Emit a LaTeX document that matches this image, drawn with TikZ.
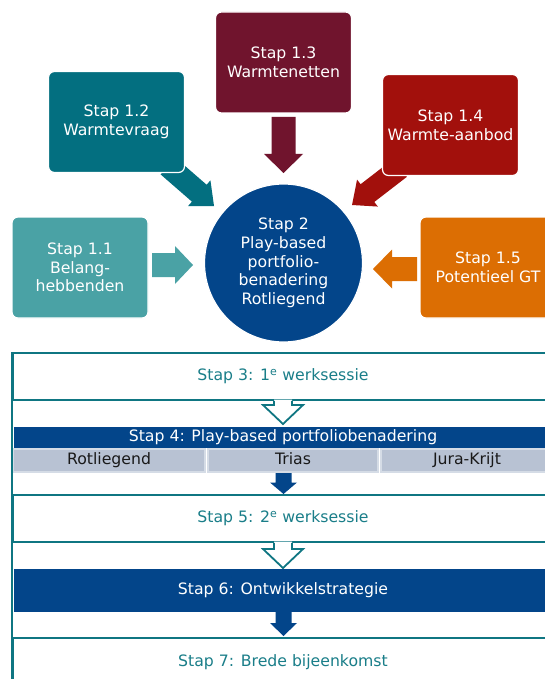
\documentclass[tikz,border=0pt]{standalone}
\usepackage{fontspec}
\setmainfont{DejaVu Sans}
\usetikzlibrary{calc}
\definecolor{cA}{HTML}{4AA2A5}
\definecolor{cB}{HTML}{036F80}
\definecolor{cC}{HTML}{70142D}
\definecolor{cD}{HTML}{A2100C}
\definecolor{cE}{HTML}{DC6E03}
\definecolor{cblue}{HTML}{03458A}
\definecolor{tealc}{HTML}{0F7682}
\definecolor{tealtext}{HTML}{1A7E89}
\definecolor{cellc}{HTML}{B8C2D3}
\definecolor{cellb}{HTML}{D5DCE6}
\newcommand\dfont{\fontsize{15.7}{18.6}\selectfont}
% block arrow: start, tip, shaft half width, head half width, head length, colour
\newcommand\blockarrow[6]{%
  \coordinate (ba-h) at ($(#2)!#5!(#1)$);
  \fill[#6] ($(#1)!#3!90:(#2)$) -- ($(ba-h)!#3!90:(#2)$) -- ($(ba-h)!#4!90:(#2)$) -- (#2)
    -- ($(ba-h)!#4!-90:(#2)$) -- ($(ba-h)!#3!-90:(#2)$) -- ($(#1)!#3!-90:(#2)$) -- cycle;}
% hollow arrow: top (on box border), tip
\newcommand\hollowarrow[2]{%
  \fill[white] ($(#1)+(-9,-1.3)$) -- ($(#2)+(-9,-19)$) -- ($(#2)+(-20,-19)$) -- (#2)
    -- ($(#2)+(20,-19)$) -- ($(#2)+(9,-19)$) -- ($(#1)+(9,-1.3)$) -- cycle;
  \draw[tealline] ($(#1)+(-9,0)$) -- ($(#2)+(-9,-19)$) -- ($(#2)+(-20,-19)$) -- (#2)
    -- ($(#2)+(20,-19)$) -- ($(#2)+(9,-19)$) -- ($(#1)+(9,0)$);}
\begin{document}
\begin{tikzpicture}[x=1pt,y=-1pt,
  topbox/.style={rounded corners=6pt, draw=white, line width=1.2pt, minimum width=136pt,
    minimum height=101pt, text=white, align=center, font=\dfont, inner sep=0pt},
  hub/.style={circle, fill=cblue, draw=white, line width=1.2pt, minimum size=158pt,
    text=white, align=center, font=\dfont, inner sep=0pt},
  tealline/.style={draw=tealc, line width=1.8pt, line join=miter},
  wbox/.style={draw=tealc, line width=1.8pt, fill=white, minimum width=540pt,
    inner sep=0pt, text=tealtext, font=\dfont, text height=11.5pt, text depth=3.5pt},
  bbar/.style={fill=cblue, minimum width=538pt, inner sep=0pt, text=white, font=\dfont,
    text height=11.5pt, text depth=3.5pt},
  cell/.style={fill=cellc, draw=cellb, line width=1.5pt, minimum height=23pt,
    inner sep=0pt, text=black!90, font=\dfont, text height=11.5pt, text depth=3.5pt},
  lbl/.style={inner sep=0pt, font=\dfont, text height=11.5pt, text depth=3.5pt}]
\useasboundingbox (0,0) rectangle (545,679);
\clip (0,0) rectangle (545,679);
\fill[white] (0,0) rectangle (545,679);

% arrow end points
\coordinate (a13s) at (283.5,117); \coordinate (a13t) at (283.5,173);
\coordinate (a11s) at (152,265);   \coordinate (a11t) at (193,265);
\coordinate (a15s) at (417,269);   \coordinate (a15t) at (373,269);
\coordinate (a12s) at (168,166);   \coordinate (a12t) at (214,206);
\coordinate (a14s) at (400,168);   \coordinate (a14t) at (352,205);

\blockarrow{a13s}{a13t}{12pt}{19.5pt}{19pt}{cC}
\blockarrow{a11s}{a11t}{12pt}{19pt}{18pt}{cA}
\blockarrow{a15s}{a15t}{12pt}{19.5pt}{19pt}{cE}
\blockarrow{a12s}{a12t}{11.2pt}{17pt}{19.5pt}{cB}
\blockarrow{a14s}{a14t}{11.2pt}{17pt}{19.5pt}{cD}

\node[topbox, fill=cA] (b11) at (80,267.5)  {Stap 1.1\\Belang-\\hebbenden};
\node[topbox, fill=cB] (b12) at (116.5,122) {Stap 1.2\\Warmtevraag};
\node[topbox, fill=cC] (b13) at (283.5,62.5) {Stap 1.3\\Warmtenetten};
\node[topbox, fill=cD] (b14) at (450.5,125) {Stap 1.4\\Warmte-aanbod};
\node[topbox, fill=cE] (b15) at (488,267.5) {Stap 1.5\\Potentieel GT};
\node[hub] (c2) at (283.5,263) {Stap 2\\Play-based\\portfolio-\\benadering\\Rotliegend};

% lower part
\node[wbox, minimum height=47pt] (s3) at (283,376.5) {Stap 3: 1\textsuperscript{e} werksessie};
\node[bbar, minimum height=21pt] (s4) at (283,437.5) {Stap 4: Play-based portfoliobenadering};
\node[cell, minimum width=192pt] (r1) at (109,460.5) {Rotliegend};
\node[cell, minimum width=170pt] (r2) at (293,460.5) {Trias};
\node[cell, minimum width=172pt] (r3) at (467,460.5) {Jura-Krijt};
\node[wbox, minimum height=47pt] (s5) at (283,518.5) {Stap 5: 2\textsuperscript{e} werksessie};
\node[bbar, minimum height=43pt] (s6) at (283,590.5) {Stap 6: Ontwikkelstrategie};
\node[wbox, minimum height=48pt] (s7) at (283,662) {};
\node[lbl, text=tealtext] (t7) at (283,662) {Stap 7: Brede bijeenkomst};
\draw[tealline] (s3.north west) -- (s3.north west |- 0,700);

\coordinate (h1t) at (283,424);
\coordinate (h2t) at (283,568);
\hollowarrow{s3.south}{h1t}
\hollowarrow{s5.south}{h2t}

\coordinate (f1s) at (283.5,473); \coordinate (f1t) at (283.5,494);
\coordinate (f2s) at (283.5,612); \coordinate (f2t) at (283.5,636);
\blockarrow{f1s}{f1t}{8pt}{13.5pt}{11.5pt}{cblue}
\blockarrow{f2s}{f2t}{8pt}{13.5pt}{13pt}{cblue}
\end{tikzpicture}
\end{document}
